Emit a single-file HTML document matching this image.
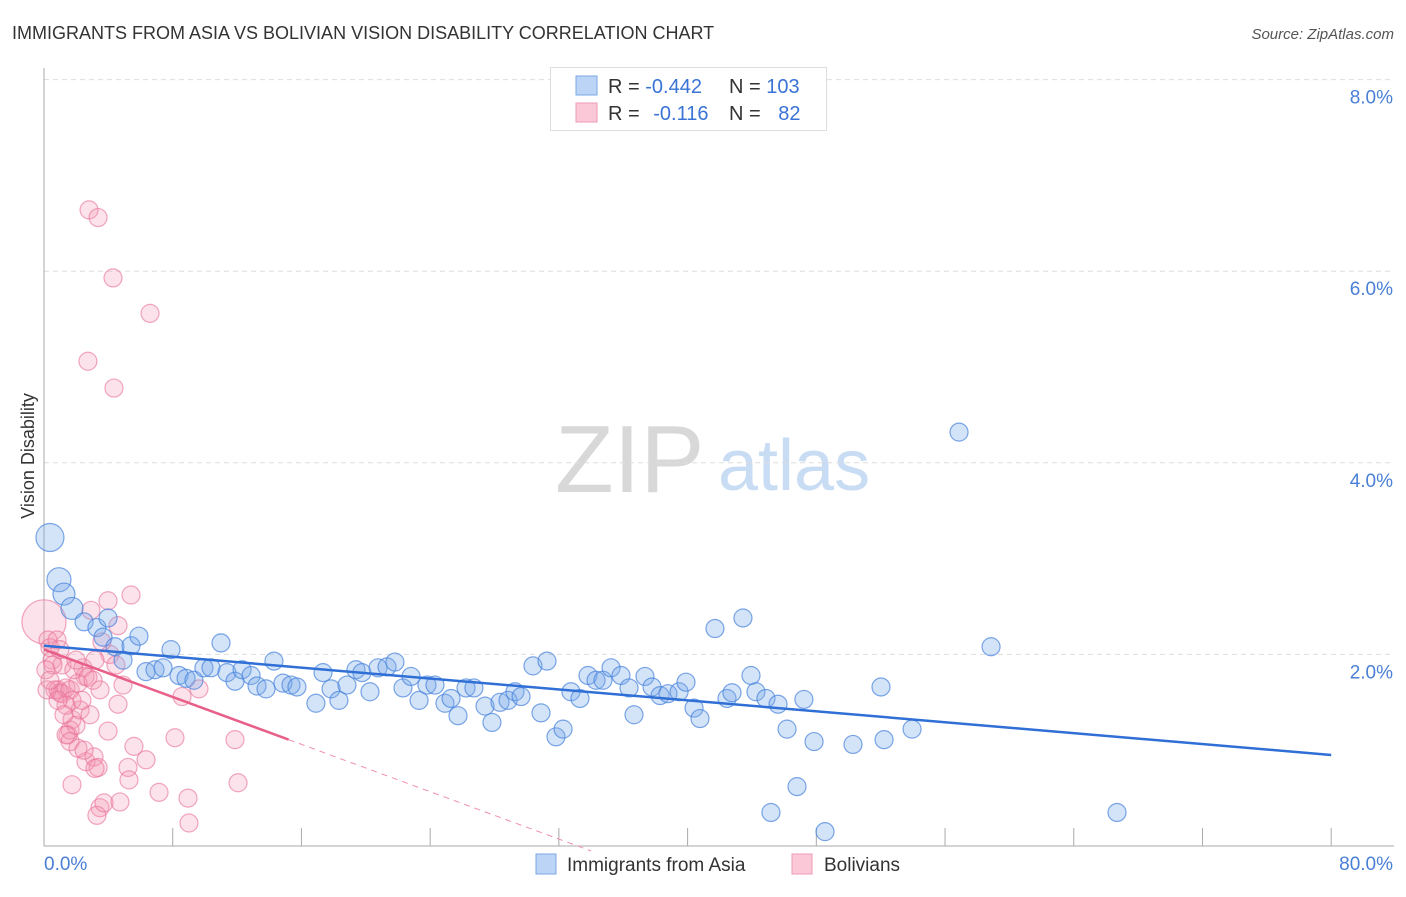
<!DOCTYPE html>
<html><head><meta charset="utf-8"><style>
body{margin:0;background:#fff;}
svg text{font-family:"Liberation Sans",sans-serif;}
</style></head><body>
<svg width="1406" height="892" viewBox="0 0 1406 892">
<text x="12" y="39" font-size="18" fill="#333">IMMIGRANTS FROM ASIA VS BOLIVIAN VISION DISABILITY CORRELATION CHART</text>
<text x="1394" y="39" font-size="15" fill="#555" font-style="italic" text-anchor="end">Source: ZipAtlas.com</text>
<text x="0" y="0" transform="translate(34,456) rotate(-90)" font-size="18" fill="#333" text-anchor="middle">Vision Disability</text>
<g>
<text x="555" y="492" font-size="96" fill="#d8d8d8" font-family="Liberation Serif, serif">ZIP</text>
<text x="718" y="490" font-size="72" fill="#c8dcf4">atlas</text>
</g>
<g id="grid"></g>
<g id="axes"></g>
<g id="pts"></g>
<g id="lines"></g>
<g>
<rect x="550.5" y="67.5" width="276" height="63" fill="#fff" stroke="#ddd"/>
<rect x="576" y="76" width="21" height="19" fill="#bcd4f6" stroke="#7aa7e6"/>
<rect x="576" y="103" width="21" height="19" fill="#fbc8d8" stroke="#ef9ab4"/>
<text x="608" y="93" font-size="20" fill="#333">R = <tspan fill="#3a73d6">-0.442</tspan></text>
<text x="729" y="93" font-size="20" fill="#333">N = <tspan fill="#3a73d6">103</tspan></text>
<text x="608" y="120" font-size="20" fill="#333">R = <tspan fill="#3a73d6" dx="8">-0.116</tspan></text>
<text x="729" y="120" font-size="20" fill="#333">N = <tspan fill="#3a73d6" dx="12">82</tspan></text>
</g>
<g>
<rect x="536" y="854" width="20" height="20" fill="#bcd4f6" stroke="#7aa7e6"/>
<text x="567" y="871" font-size="19" fill="#333">Immigrants from Asia</text>
<rect x="792" y="854" width="20" height="20" fill="#fbc8d8" stroke="#ef9ab4"/>
<text x="824" y="871" font-size="19" fill="#333">Bolivians</text>
</g>
</svg>
<script>
const asiaX=[0.37,0.93,1.24,1.74,2.49,3.29,3.98,3.67,4.41,4.91,5.41,5.90,6.34,6.90,7.40,7.89,8.39,8.83,9.32,9.94,10.38,11.00,11.37,11.87,12.31,12.87,13.24,13.80,14.29,14.85,15.35,15.72,16.90,17.34,17.84,18.33,18.83,19.39,19.76,20.26,20.76,21.32,21.81,22.31,22.81,23.31,23.80,24.30,24.92,25.30,25.73,26.23,26.72,27.41,27.84,28.34,28.84,29.27,29.65,30.39,30.89,31.26,31.82,32.26,32.75,33.31,33.81,34.31,34.74,35.24,35.86,36.36,36.67,37.35,37.79,38.29,38.78,39.47,39.90,40.40,40.77,41.70,42.45,42.76,43.44,43.94,44.25,44.87,45.62,46.18,46.80,47.23,47.86,48.54,50.28,52.02,52.21,53.95,56.87,58.86,45.18,66.69];
const asiaY=[3.22,2.78,2.63,2.48,2.34,2.28,2.38,2.18,2.08,1.94,2.09,2.19,1.82,1.84,1.86,2.05,1.78,1.75,1.73,1.86,1.86,2.12,1.81,1.72,1.84,1.78,1.67,1.64,1.93,1.70,1.68,1.66,1.49,1.81,1.64,1.52,1.68,1.84,1.81,1.61,1.86,1.87,1.92,1.65,1.77,1.52,1.68,1.68,1.49,1.54,1.36,1.65,1.65,1.46,1.29,1.50,1.52,1.61,1.56,1.88,1.39,1.93,1.14,1.22,1.61,1.54,1.78,1.73,1.73,1.86,1.78,1.65,1.37,1.77,1.66,1.57,1.59,1.61,1.71,1.44,1.33,2.27,1.54,1.60,2.38,1.78,1.61,1.54,1.48,1.22,0.62,1.53,1.09,0.15,1.06,1.66,1.11,1.22,4.32,2.08,0.35,0.35];
const asiaR=[14,12,11,11];
const bolX=[0,0.25,0.37,0.50,0.68,0.87,0.99,1.12,1.37,1.62,1.74,1.49,1.62,1.99,2.24,2.42,2.55,2.80,3.36,4.29,6.59,2.73,4.35,5.41,3.98,4.60,2.92,3.60,4.10,4.47,4.91,1.74,2.61,3.11,3.36,3.17,3.98,4.60,5.59,6.34,5.22,5.28,3.48,3.29,3.73,4.72,7.15,8.95,9.01,12.06,8.14,11.87,8.58,9.63,1.12,2.11,1.74,1.37,1.86,2.73,2.86,2.11,1.37,0.81,0.56,0.99,2.36,3.48,3.05,0.19,0.12,0.87,0.37,1.24,1.62,2.49,1.99,3.17];
const bolY=[2.34,2.15,2.07,1.94,1.63,1.63,1.60,1.59,1.65,1.63,1.32,1.16,1.21,1.26,1.42,1.86,1.77,6.64,6.56,5.93,5.56,5.06,4.78,2.62,2.56,2.30,2.46,2.13,2.00,1.89,1.68,0.64,0.88,0.93,0.82,0.81,1.20,1.48,1.04,0.90,0.82,0.69,0.40,0.32,0.45,0.46,0.56,0.50,0.24,0.66,1.13,1.11,1.56,1.64,1.89,1.70,1.52,1.47,1.84,1.76,1.37,1.02,1.16,2.15,1.89,2.05,1.52,1.63,1.73,1.63,1.84,1.52,1.73,1.37,1.09,1.00,1.94,1.94];
const bolR=[22];
const yTicks=[2,4,6,8];
const yTickLabels=["2.0%","4.0%","6.0%","8.0%"];
const xTicks=[0,8,16,24,32,40,48,56,64,72,80];
const asiaTrend=[2.09,0.95];      // value at x=0 and x=80
const bolTrend=[2.05,-0.0618];    // intercept, slope per %
const bolSolidEnd=15.2, bolDashEnd=34;

const NS="http://www.w3.org/2000/svg";
const X=v=>44+v*16.09, Y=v=>846-v*95.8;
function mk(tag,attrs,parent){const e=document.createElementNS(NS,tag);for(const k in attrs)e.setAttribute(k,attrs[k]);parent.appendChild(e);return e;}
const grid=document.getElementById('grid'),axes=document.getElementById('axes'),pts=document.getElementById('pts'),lines=document.getElementById('lines');
yTicks.forEach((t,i)=>{
 const l=mk('line',{x1:44,x2:1394,y1:Y(t),y2:Y(t),stroke:'#ddd','stroke-dasharray':'5,4'},grid);
 
 
 const tx=mk('text',{x:1393,y:Y(t)+24,'font-size':19,fill:'#4a7fd6','text-anchor':'end'},axes);
 tx.textContent=yTickLabels[i];
 
 
});
const ya=mk('line',{x1:44,x2:44,y1:68,y2:846,stroke:'#aaa'},axes);


const xa=mk('line',{x1:44,x2:1394,y1:846,y2:846,stroke:'#aaa'},axes);


xTicks.forEach(t=>{
 const l=mk('line',{x1:X(t),x2:X(t),y1:828,y2:846,stroke:'#aaa'},axes);
 
 
});
const x0=mk('text',{x:44,y:870,'font-size':19,fill:'#4a7fd6'},axes);x0.textContent=xTicks[0].toFixed(1)+'%';


const x1=mk('text',{x:1393,y:870,'font-size':19,fill:'#4a7fd6','text-anchor':'end'},axes);x1.textContent=xTicks[xTicks.length-1].toFixed(1)+'%';



bolX.forEach((v,i)=>{
 const c=mk('circle',{cx:X(v),cy:Y(bolY[i]),r:bolR[i]||9,fill:'rgba(245,150,180,0.28)',stroke:'rgba(232,110,150,0.6)','stroke-width':1.2},pts);
 
 
});
asiaX.forEach((v,i)=>{
 const c=mk('circle',{cx:X(v),cy:Y(asiaY[i]),r:asiaR[i]||9,fill:'rgba(120,170,235,0.33)',stroke:'rgba(70,130,220,0.7)','stroke-width':1.2},pts);
 
 
});
const at=mk('line',{x1:X(0),y1:Y(asiaTrend[0]),x2:X(80),y2:Y(asiaTrend[1]),stroke:'#2f6fd6','stroke-width':2.5},lines);


const bt=mk('line',{x1:X(0),y1:Y(bolTrend[0]),x2:X(bolSolidEnd),y2:Y(bolTrend[0]+bolTrend[1]*bolSolidEnd),stroke:'#e8608a','stroke-width':2.5},lines);


const bd=mk('line',{x1:X(bolSolidEnd),y1:Y(bolTrend[0]+bolTrend[1]*bolSolidEnd),x2:X(bolDashEnd),y2:Y(bolTrend[0]+bolTrend[1]*bolDashEnd),stroke:'#ef90ad','stroke-width':1,'stroke-dasharray':'6,5'},lines);


</script>
</body></html>
